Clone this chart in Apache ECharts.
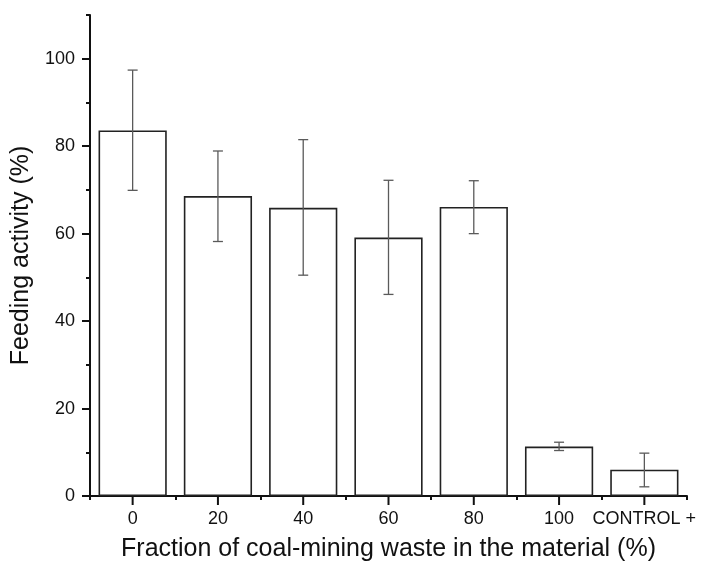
<!DOCTYPE html>
<html>
<head>
<meta charset="utf-8">
<script src="https://cdn.jsdelivr.net/npm/echarts@6/dist/echarts.min.js"></script>
<style>html,body{margin:0;padding:0;background:#fff}#c{width:703px;height:569px}</style>
</head>
<body>
<div id="c"></div>
<script>
var categories = ['0', '20', '40', '60', '80', '100', 'CONTROL +'];
var means = [83.6, 68.6, 65.9, 59.1, 66.1, 11.3, 6.0];
var errLow = [69.9, 58.2, 50.5, 46.1, 60.0, 10.4, 2.1];
var errHigh = [97.4, 78.9, 81.5, 72.2, 72.1, 12.3, 9.8];
var yTicks = [0, 20, 40, 60, 80, 100];
var yMinorTicks = [0, 10, 20, 30, 40, 50, 60, 70, 80, 90, 100, 110];
var yMax = 110;

var FONT = '"Liberation Sans", Arial, sans-serif';
var chart = echarts.init(document.getElementById('c'));
var errData = categories.map(function (c, i) { return [i, errLow[i], errHigh[i]]; });
var centerTicks = categories.map(function (c, i) { return [i, 0]; });

chart.setOption({
  animation: false,
  backgroundColor: '#fff',
  grid: { left: 90, right: 16, top: 15, bottom: 73 },
  xAxis: [{
    type: 'category',
    data: categories,
    position: 'bottom',
    name: 'Fraction of coal-mining waste in the material (%)',
    nameLocation: 'middle',
    nameGap: 41,
    nameTextStyle: { fontFamily: FONT, fontSize: 25, color: '#111' },
    axisLine: { lineStyle: { color: '#111', width: 2 } },
    axisTick: { show: true, interval: 0, length: 4, lineStyle: { color: '#111', width: 2 } },
    axisLabel: { fontFamily: FONT, fontSize: 18, color: '#111', margin: 14, interval: 0 },
    splitLine: { show: false }
  }],
  yAxis: [{
    type: 'value',
    min: 0,
    max: yMax,
    interval: 20,
    name: 'Feeding activity (%)',
    nameLocation: 'middle',
    nameGap: 53,
    nameTextStyle: { fontFamily: FONT, fontSize: 25, color: '#111' },
    axisLine: { show: true, onZero: false, lineStyle: { color: '#111', width: 2 } },
    axisTick: { show: true, length: 8, customValues: yTicks, lineStyle: { color: '#111', width: 2 } },
    axisLabel: { fontFamily: FONT, fontSize: 18, color: '#111', margin: 15, customValues: yTicks },
    splitLine: { show: false }
  }, {
    type: 'value',
    min: 0,
    max: yMax,
    interval: 10,
    position: 'left',
    axisLine: { show: false, onZero: false },
    axisTick: { show: true, length: 4, customValues: yMinorTicks, lineStyle: { color: '#111', width: 2 } },
    axisLabel: { show: false },
    splitLine: { show: false }
  }],
  series: [{
    type: 'bar',
    xAxisIndex: 0,
    yAxisIndex: 0,
    data: means,
    barCategoryGap: '20%',
    itemStyle: { color: '#fff', borderColor: '#222', borderWidth: 1.6 },
    silent: true
  }, {
    type: 'custom',
    xAxisIndex: 0,
    yAxisIndex: 0,
    data: errData,
    silent: true,
    z: 5,
    renderItem: function (params, api) {
      var x = api.value(0);
      var lo = api.coord([x, api.value(1)]);
      var hi = api.coord([x, api.value(2)]);
      var half = 5;
      var st = { stroke: '#5a5a5a', lineWidth: 1.3 };
      return {
        type: 'group',
        children: [
          { type: 'line', shape: { x1: lo[0], y1: lo[1], x2: hi[0], y2: hi[1] }, style: st },
          { type: 'line', shape: { x1: lo[0] - half, y1: lo[1], x2: lo[0] + half, y2: lo[1] }, style: st },
          { type: 'line', shape: { x1: hi[0] - half, y1: hi[1], x2: hi[0] + half, y2: hi[1] }, style: st }
        ]
      };
    }
  }, {
    type: 'custom',
    name: 'centerTicks',
    xAxisIndex: 0,
    yAxisIndex: 0,
    data: centerTicks,
    silent: true,
    clip: false,
    z: 6,
    renderItem: function (params, api) {
      var p = api.coord([api.value(0), api.value(1)]);
      return { type: 'line', shape: { x1: p[0], y1: p[1], x2: p[0], y2: p[1] + 9 }, style: { stroke: '#111', lineWidth: 2 } };
    }
  }]
});
</script>
</body>
</html>
